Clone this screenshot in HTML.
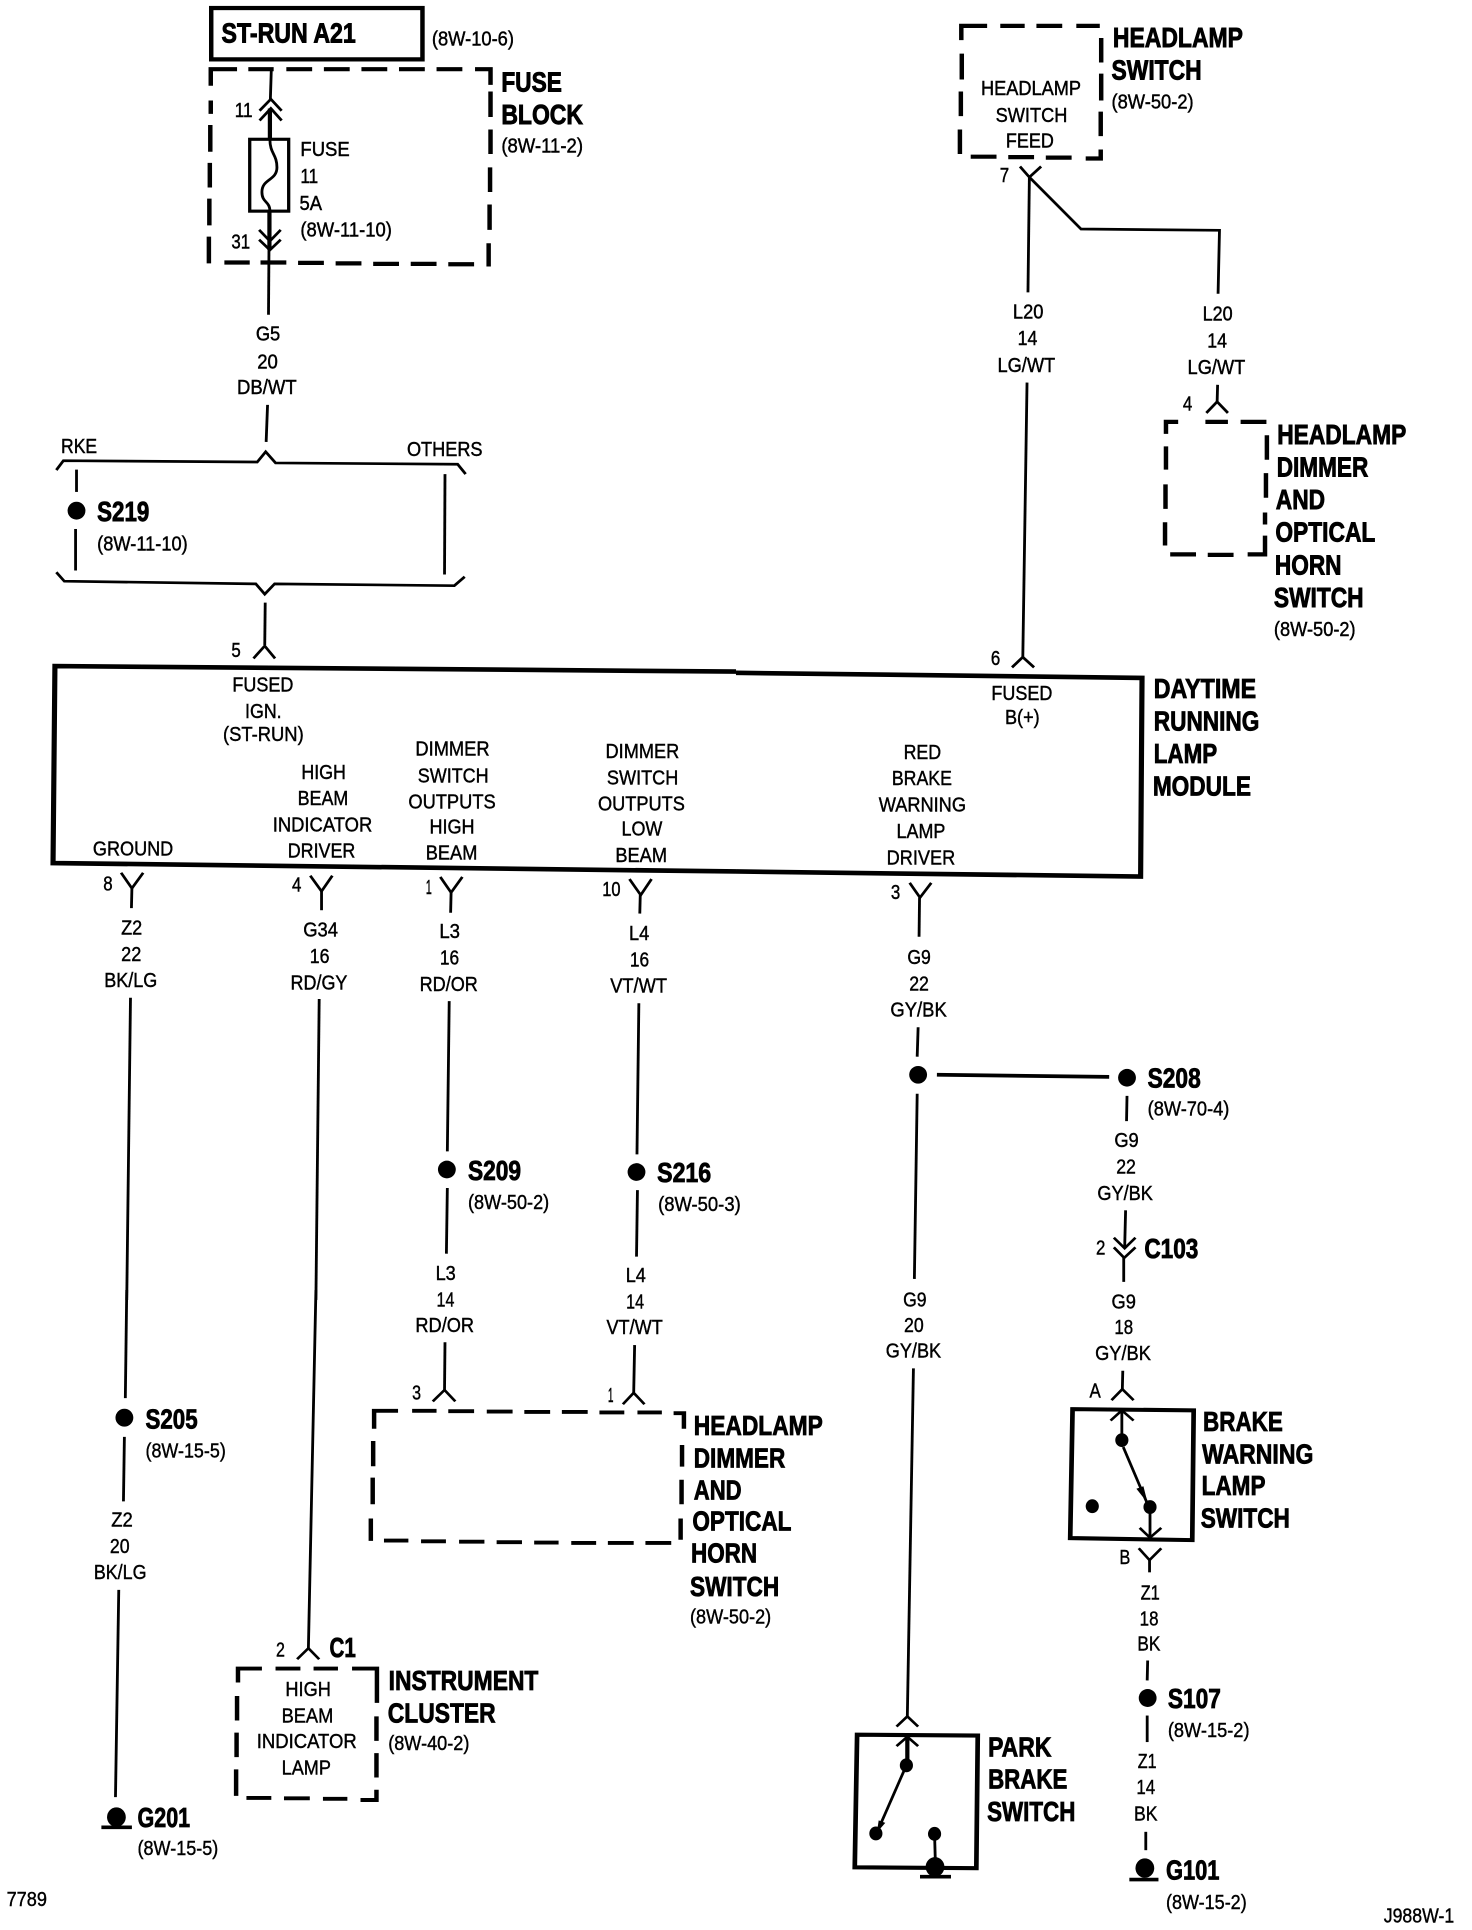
<!DOCTYPE html>
<html><head><meta charset="utf-8"><style>
html,body{margin:0;padding:0;background:#fff}
svg{display:block}
text{font-family:"Liberation Sans",sans-serif;fill:#000;stroke:#000}
text.r{stroke-width:1px}
text.b{font-weight:bold;stroke-width:2px}
.za text.r{font-size:45px}.za text.b{font-size:63px}
.zc text.r{font-size:48px}.zc text.b{font-size:66px}
.ze text.r{font-size:49px}.ze text.b{font-size:68px}
path,polyline,line,rect{fill:none;stroke:#000;stroke-width:6}
.d{stroke-width:9.5}
.t{stroke-width:9}
</style></head><body>
<svg xmlns="http://www.w3.org/2000/svg" width="1472" height="1930" viewBox="0 0 1472 1930">
<rect x="0" y="0" width="1472" height="1930" style="stroke:none;fill:#fff"/>

<!-- Zone A -->
<g class="za" transform="translate(0,0) scale(.4694,.4464)">
<rect class="d" x="450" y="18" width="450" height="115"/>
<text class="b" x="472" y="95" textLength="286" lengthAdjust="spacingAndGlyphs">ST-RUN A21</text>
<text class="r" x="920" y="102" textLength="175" lengthAdjust="spacingAndGlyphs">(8W-10-6)</text>
<path class="d" d="M449,192V155H505M529,155H583M610,155H665M690,155H745M770,155H825M850,155H905M930,155H985M1012,155H1045V190M1045,205V262M1045,290V345M1044,375V430M1043,458V515M1041,545V597M1010,592H955M930,591H875M850,591H795M770,590H715M690,589H635M610,588H555M532,588H478M445,590V530M446,505V445M447,420V365M448,340V280M449,255V225"/>
<line x1="578" y1="155" x2="576" y2="222"/>
<polyline points="553,248 577,222 600,248"/><polyline points="553,270 577,243 600,270"/>
<line class="t" x1="575" y1="243" x2="575" y2="312"/>
<rect x="532" y="312" width="83" height="161" style="stroke-width:7"/>
<path style="stroke-width:6" d="M575,312C575,345 590,345 590,375C590,405 558,400 558,430C558,455 575,450 575,473"/>
<line class="t" x1="574" y1="473" x2="574" y2="560"/>
<polyline points="552,515 575,540 598,515"/><polyline points="552,537 575,560 598,537"/>
<line x1="573" y1="560" x2="572" y2="705"/>
<text class="r" x="500" y="262" textLength="38" lengthAdjust="spacingAndGlyphs">11</text>
<text class="r" x="640" y="350" textLength="105" lengthAdjust="spacingAndGlyphs">FUSE</text>
<text class="r" x="640" y="410" textLength="38" lengthAdjust="spacingAndGlyphs">11</text>
<text class="r" x="638" y="470" textLength="48" lengthAdjust="spacingAndGlyphs">5A</text>
<text class="r" x="640" y="530" textLength="195" lengthAdjust="spacingAndGlyphs">(8W-11-10)</text>
<text class="r" x="493" y="557" textLength="40" lengthAdjust="spacingAndGlyphs">31</text>
<text class="b" x="1068" y="205" textLength="129" lengthAdjust="spacingAndGlyphs">FUSE</text>
<text class="b" x="1068" y="278" textLength="174" lengthAdjust="spacingAndGlyphs">BLOCK</text>
<text class="r" x="1068" y="342" textLength="174" lengthAdjust="spacingAndGlyphs">(8W-11-2)</text>
<text class="r" x="545" y="763" textLength="52" lengthAdjust="spacingAndGlyphs">G5</text>
<text class="r" x="548" y="825" textLength="44" lengthAdjust="spacingAndGlyphs">20</text>
<text class="r" x="505" y="883" textLength="127" lengthAdjust="spacingAndGlyphs">DB/WT</text>
<line x1="570" y1="907" x2="567" y2="990"/>
<text class="r" x="130" y="1015" textLength="77" lengthAdjust="spacingAndGlyphs">RKE</text>
<text class="r" x="867" y="1022" textLength="161" lengthAdjust="spacingAndGlyphs">OTHERS</text>
<polyline points="120,1053 135,1032 548,1035 566,1012 587,1037 975,1040 992,1062"/>
<line x1="163" y1="1052" x2="163" y2="1102"/>
<ellipse cx="163" cy="1144" rx="19" ry="20"/>
<line x1="161" y1="1185" x2="161" y2="1278"/>
<line x1="948" y1="1062" x2="947" y2="1287"/>
<text class="b" x="207" y="1167" textLength="111" lengthAdjust="spacingAndGlyphs">S219</text>
<text class="r" x="207" y="1233" textLength="193" lengthAdjust="spacingAndGlyphs">(8W-11-10)</text>
<polyline points="120,1282 137,1302 545,1308 564,1331 585,1308 968,1312 990,1292"/>
<line x1="565" y1="1350" x2="564" y2="1445"/>
<polyline points="540,1475 564,1447 586,1475"/>
<text class="r" x="493" y="1472" textLength="20" lengthAdjust="spacingAndGlyphs">5</text>
</g>

<!-- Zone B -->
<g class="za" transform="translate(736,0) scale(.4694,.4464)">
<path class="d" d="M480,90V58H535M563,58H615M640,58H695M725,58H775M778,85V140M778,165V225M777,250V305M777,335V355H745M715,353H660M635,352H580M555,351H500M477,345V290M479,260V205M481,178V120"/>
<text class="r" x="522" y="213" textLength="213" lengthAdjust="spacingAndGlyphs">HEADLAMP</text>
<text class="r" x="553" y="273" textLength="153" lengthAdjust="spacingAndGlyphs">SWITCH</text>
<text class="r" x="575" y="330" textLength="102" lengthAdjust="spacingAndGlyphs">FEED</text>
<text class="b" x="803" y="105" textLength="277" lengthAdjust="spacingAndGlyphs">HEADLAMP</text>
<text class="b" x="800" y="178" textLength="192" lengthAdjust="spacingAndGlyphs">SWITCH</text>
<text class="r" x="800" y="243" textLength="175" lengthAdjust="spacingAndGlyphs">(8W-50-2)</text>
<text class="r" x="562" y="408" textLength="20" lengthAdjust="spacingAndGlyphs">7</text>
<polyline points="605,373 625,397 650,373"/>
<line x1="625" y1="397" x2="622" y2="655"/>
<polyline points="625,397 735,513 1030,516 1027,658"/>
<text class="r" x="590" y="713" textLength="65" lengthAdjust="spacingAndGlyphs">L20</text>
<text class="r" x="600" y="773" textLength="42" lengthAdjust="spacingAndGlyphs">14</text>
<text class="r" x="557" y="833" textLength="123" lengthAdjust="spacingAndGlyphs">LG/WT</text>
<text class="r" x="994" y="718" textLength="64" lengthAdjust="spacingAndGlyphs">L20</text>
<text class="r" x="1004" y="778" textLength="42" lengthAdjust="spacingAndGlyphs">14</text>
<text class="r" x="962" y="838" textLength="123" lengthAdjust="spacingAndGlyphs">LG/WT</text>
<line x1="1026" y1="862" x2="1025" y2="900"/>
<polyline points="1002,925 1025,900 1048,925"/>
<text class="r" x="952" y="920" textLength="20" lengthAdjust="spacingAndGlyphs">4</text>
<path class="d" d="M942,945H916V972M916,1000V1052M915,1085V1140M914,1170V1222M925,1242H980M1005,1243H1060M1090,1242H1127V1200M1127,1148V1175M1129,1060V1115M1131,975V1030M1075,945H1130M1000,945H1048"/>
<text class="b" x="1153" y="995" textLength="275" lengthAdjust="spacingAndGlyphs">HEADLAMP</text>
<text class="b" x="1152" y="1067" textLength="195" lengthAdjust="spacingAndGlyphs">DIMMER</text>
<text class="b" x="1150" y="1140" textLength="105" lengthAdjust="spacingAndGlyphs">AND</text>
<text class="b" x="1149" y="1213" textLength="213" lengthAdjust="spacingAndGlyphs">OPTICAL</text>
<text class="b" x="1148" y="1287" textLength="142" lengthAdjust="spacingAndGlyphs">HORN</text>
<text class="b" x="1146" y="1360" textLength="191" lengthAdjust="spacingAndGlyphs">SWITCH</text>
<text class="r" x="1146" y="1425" textLength="174" lengthAdjust="spacingAndGlyphs">(8W-50-2)</text>
<line x1="620" y1="857" x2="611" y2="1473"/>
<polyline points="588,1495 611,1472 635,1495"/>
<text class="r" x="543" y="1490" textLength="20" lengthAdjust="spacingAndGlyphs">6</text>
</g>

<!-- Zone C -->
<g class="zc" transform="translate(0,640) scale(.4694,.4209)">
<polyline class="d" style="stroke-width:11" points="1568,75 117,62 113,530 1568,550"/>
<text class="r" x="495" y="122" textLength="130" lengthAdjust="spacingAndGlyphs">FUSED</text>
<text class="r" x="522" y="185" textLength="78" lengthAdjust="spacingAndGlyphs">IGN.</text>
<text class="r" x="475" y="240" textLength="172" lengthAdjust="spacingAndGlyphs">(ST-RUN)</text>
<text class="r" x="642" y="330" textLength="95" lengthAdjust="spacingAndGlyphs">HIGH</text>
<text class="r" x="634" y="392" textLength="108" lengthAdjust="spacingAndGlyphs">BEAM</text>
<text class="r" x="581" y="455" textLength="212" lengthAdjust="spacingAndGlyphs">INDICATOR</text>
<text class="r" x="613" y="517" textLength="144" lengthAdjust="spacingAndGlyphs">DRIVER</text>
<text class="r" x="198" y="512" textLength="171" lengthAdjust="spacingAndGlyphs">GROUND</text>
<text class="r" x="885" y="275" textLength="158" lengthAdjust="spacingAndGlyphs">DIMMER</text>
<text class="r" x="890" y="338" textLength="151" lengthAdjust="spacingAndGlyphs">SWITCH</text>
<text class="r" x="870" y="400" textLength="186" lengthAdjust="spacingAndGlyphs">OUTPUTS</text>
<text class="r" x="915" y="460" textLength="96" lengthAdjust="spacingAndGlyphs">HIGH</text>
<text class="r" x="907" y="522" textLength="110" lengthAdjust="spacingAndGlyphs">BEAM</text>
<text class="r" x="1290" y="280" textLength="157" lengthAdjust="spacingAndGlyphs">DIMMER</text>
<text class="r" x="1293" y="343" textLength="152" lengthAdjust="spacingAndGlyphs">SWITCH</text>
<text class="r" x="1274" y="405" textLength="185" lengthAdjust="spacingAndGlyphs">OUTPUTS</text>
<text class="r" x="1324" y="465" textLength="87" lengthAdjust="spacingAndGlyphs">LOW</text>
<text class="r" x="1311" y="527" textLength="110" lengthAdjust="spacingAndGlyphs">BEAM</text>
<polyline points="258,553 281,590 305,553"/><line x1="281" y1="590" x2="280" y2="637"/>
<polyline points="661,560 685,597 708,560"/><line x1="685" y1="597" x2="685" y2="642"/>
<polyline points="938,563 961,600 985,563"/><line x1="961" y1="600" x2="960" y2="648"/>
<polyline points="1341,568 1365,606 1388,568"/><line x1="1364" y1="606" x2="1363" y2="650"/>
<text class="r" x="220" y="595" textLength="20" lengthAdjust="spacingAndGlyphs">8</text>
<text class="r" x="622" y="597" textLength="20" lengthAdjust="spacingAndGlyphs">4</text>
<text class="r" x="907" y="603" textLength="13" lengthAdjust="spacingAndGlyphs">1</text>
<text class="r" x="1283" y="608" textLength="39" lengthAdjust="spacingAndGlyphs">10</text>
<text class="r" x="258" y="700" textLength="45" lengthAdjust="spacingAndGlyphs">Z2</text>
<text class="r" x="258" y="763" textLength="43" lengthAdjust="spacingAndGlyphs">22</text>
<text class="r" x="222" y="825" textLength="113" lengthAdjust="spacingAndGlyphs">BK/LG</text>
<text class="r" x="646" y="705" textLength="74" lengthAdjust="spacingAndGlyphs">G34</text>
<text class="r" x="660" y="768" textLength="42" lengthAdjust="spacingAndGlyphs">16</text>
<text class="r" x="619" y="830" textLength="121" lengthAdjust="spacingAndGlyphs">RD/GY</text>
<text class="r" x="936" y="708" textLength="44" lengthAdjust="spacingAndGlyphs">L3</text>
<text class="r" x="937" y="771" textLength="41" lengthAdjust="spacingAndGlyphs">16</text>
<text class="r" x="894" y="834" textLength="124" lengthAdjust="spacingAndGlyphs">RD/OR</text>
<text class="r" x="1340" y="713" textLength="43" lengthAdjust="spacingAndGlyphs">L4</text>
<text class="r" x="1342" y="776" textLength="41" lengthAdjust="spacingAndGlyphs">16</text>
<text class="r" x="1300" y="838" textLength="121" lengthAdjust="spacingAndGlyphs">VT/WT</text>
<line x1="278" y1="850" x2="270" y2="1568"/>
<line x1="680" y1="853" x2="673" y2="1568"/>
<line x1="957" y1="858" x2="953" y2="1215"/>
<ellipse cx="952" cy="1258" rx="19" ry="21"/>
<line x1="953" y1="1302" x2="951" y2="1458"/>
<text class="b" x="997" y="1283" textLength="113" lengthAdjust="spacingAndGlyphs">S209</text>
<text class="r" x="997" y="1352" textLength="173" lengthAdjust="spacingAndGlyphs">(8W-50-2)</text>
<text class="r" x="928" y="1520" textLength="43" lengthAdjust="spacingAndGlyphs">L3</text>
<line x1="1361" y1="863" x2="1357" y2="1222"/>
<ellipse cx="1356" cy="1264" rx="19" ry="21"/>
<line x1="1358" y1="1307" x2="1356" y2="1465"/>
<text class="b" x="1400" y="1288" textLength="115" lengthAdjust="spacingAndGlyphs">S216</text>
<text class="r" x="1402" y="1357" textLength="176" lengthAdjust="spacingAndGlyphs">(8W-50-3)</text>
<text class="r" x="1333" y="1525" textLength="43" lengthAdjust="spacingAndGlyphs">L4</text>
</g>

<!-- Zone D -->
<g class="zc" transform="translate(736,640) scale(.4694,.4209)">
<polyline class="d" style="stroke-width:11" points="0,78 865,90 862,562 0,550"/>
<text class="r" x="544" y="143" textLength="130" lengthAdjust="spacingAndGlyphs">FUSED</text>
<text class="r" x="573" y="200" textLength="74" lengthAdjust="spacingAndGlyphs">B(+)</text>
<text class="b" x="890" y="138" textLength="218" lengthAdjust="spacingAndGlyphs">DAYTIME</text>
<text class="b" x="890" y="215" textLength="225" lengthAdjust="spacingAndGlyphs">RUNNING</text>
<text class="b" x="890" y="292" textLength="135" lengthAdjust="spacingAndGlyphs">LAMP</text>
<text class="b" x="888" y="370" textLength="209" lengthAdjust="spacingAndGlyphs">MODULE</text>
<text class="r" x="357" y="283" textLength="80" lengthAdjust="spacingAndGlyphs">RED</text>
<text class="r" x="332" y="345" textLength="128" lengthAdjust="spacingAndGlyphs">BRAKE</text>
<text class="r" x="304" y="407" textLength="186" lengthAdjust="spacingAndGlyphs">WARNING</text>
<text class="r" x="342" y="470" textLength="104" lengthAdjust="spacingAndGlyphs">LAMP</text>
<text class="r" x="321" y="533" textLength="146" lengthAdjust="spacingAndGlyphs">DRIVER</text>
<polyline points="370,577 392,612 416,577"/><line x1="391" y1="612" x2="390" y2="705"/>
<text class="r" x="330" y="615" textLength="20" lengthAdjust="spacingAndGlyphs">3</text>
<text class="r" x="365" y="770" textLength="50" lengthAdjust="spacingAndGlyphs">G9</text>
<text class="r" x="369" y="833" textLength="42" lengthAdjust="spacingAndGlyphs">22</text>
<text class="r" x="329" y="895" textLength="120" lengthAdjust="spacingAndGlyphs">GY/BK</text>
<line x1="388" y1="920" x2="386" y2="990"/>
<ellipse cx="388" cy="1033" rx="19" ry="21"/>
<line class="t" x1="428" y1="1033" x2="795" y2="1038"/>
<ellipse cx="833" cy="1040" rx="19" ry="21"/>
<text class="b" x="877" y="1063" textLength="113" lengthAdjust="spacingAndGlyphs">S208</text>
<text class="r" x="877" y="1130" textLength="174" lengthAdjust="spacingAndGlyphs">(8W-70-4)</text>
<line x1="833" y1="1083" x2="832" y2="1143"/>
<text class="r" x="806" y="1205" textLength="52" lengthAdjust="spacingAndGlyphs">G9</text>
<text class="r" x="810" y="1268" textLength="42" lengthAdjust="spacingAndGlyphs">22</text>
<text class="r" x="770" y="1330" textLength="118" lengthAdjust="spacingAndGlyphs">GY/BK</text>
<line x1="830" y1="1355" x2="828" y2="1445"/>
<polyline points="805,1420 828,1445 851,1420"/><polyline points="805,1443 827,1468 851,1443"/>
<line x1="826" y1="1468" x2="826" y2="1525"/>
<text class="r" x="767" y="1460" textLength="20" lengthAdjust="spacingAndGlyphs">2</text>
<text class="b" x="870" y="1468" textLength="115" lengthAdjust="spacingAndGlyphs">C103</text>
<line x1="386" y1="1078" x2="380" y2="1518"/>
</g>

<!-- Zone E -->
<g class="ze" transform="translate(0,1290) scale(.4694,.408)">
<line x1="270" y1="0" x2="267" y2="265"/>
<ellipse cx="265" cy="313" rx="19" ry="22"/>
<text class="b" x="310" y="340" textLength="111" lengthAdjust="spacingAndGlyphs">S205</text>
<text class="r" x="310" y="410" textLength="171" lengthAdjust="spacingAndGlyphs">(8W-15-5)</text>
<line x1="265" y1="360" x2="263" y2="518"/>
<text class="r" x="237" y="580" textLength="46" lengthAdjust="spacingAndGlyphs">Z2</text>
<text class="r" x="234" y="645" textLength="42" lengthAdjust="spacingAndGlyphs">20</text>
<text class="r" x="200" y="708" textLength="112" lengthAdjust="spacingAndGlyphs">BK/LG</text>
<line x1="253" y1="735" x2="246" y2="1243"/>
<ellipse cx="248" cy="1292" rx="20" ry="24"/>
<line class="t" x1="216" y1="1317" x2="281" y2="1317"/>
<text class="b" x="293" y="1316" textLength="112" lengthAdjust="spacingAndGlyphs">G201</text>
<text class="r" x="293" y="1385" textLength="172" lengthAdjust="spacingAndGlyphs">(8W-15-5)</text>
<text class="r" x="14" y="1510" textLength="86" lengthAdjust="spacingAndGlyphs">7789</text>
<line x1="673" y1="0" x2="657" y2="878"/>
<polyline points="633,905 657,878 680,905"/>
<text class="r" x="588" y="898" textLength="19" lengthAdjust="spacingAndGlyphs">2</text>
<text class="b" x="702" y="900" textLength="56" lengthAdjust="spacingAndGlyphs">C1</text>
<text class="r" x="930" y="40" textLength="38" lengthAdjust="spacingAndGlyphs">14</text>
<text class="r" x="885" y="103" textLength="125" lengthAdjust="spacingAndGlyphs">RD/OR</text>
<line x1="948" y1="128" x2="947" y2="245"/>
<polyline points="922,273 947,245 970,273"/>
<text class="r" x="878" y="268" textLength="19" lengthAdjust="spacingAndGlyphs">3</text>
<text class="r" x="1334" y="45" textLength="38" lengthAdjust="spacingAndGlyphs">14</text>
<text class="r" x="1292" y="108" textLength="120" lengthAdjust="spacingAndGlyphs">VT/WT</text>
<line x1="1352" y1="135" x2="1350" y2="252"/>
<polyline points="1327,280 1350,252 1373,280"/>
<text class="r" x="1295" y="275" textLength="12" lengthAdjust="spacingAndGlyphs">1</text>
<path class="d" d="M797,340V296H848M878,296H930M955,297H1010M1037,298H1092M1117,299H1172M1197,299H1252M1277,300H1330M1358,300H1410M1435,302H1457V340M1453,380V433M1452,465V525M1450,560V612M1430,620H1375M1350,620H1295M1270,620H1217M1190,619H1138M1112,618H1058M1032,617H978M950,616H897M870,614H818M790,615V560M794,525V460M795,432V370"/>
<text class="b" x="1478" y="355" textLength="275" lengthAdjust="spacingAndGlyphs">HEADLAMP</text>
<text class="b" x="1478" y="435" textLength="195" lengthAdjust="spacingAndGlyphs">DIMMER</text>
<text class="b" x="1478" y="513" textLength="102" lengthAdjust="spacingAndGlyphs">AND</text>
<text class="b" x="1475" y="590" textLength="211" lengthAdjust="spacingAndGlyphs">OPTICAL</text>
<text class="b" x="1472" y="668" textLength="141" lengthAdjust="spacingAndGlyphs">HORN</text>
<text class="b" x="1470" y="750" textLength="190" lengthAdjust="spacingAndGlyphs">SWITCH</text>
<text class="r" x="1470" y="817" textLength="173" lengthAdjust="spacingAndGlyphs">(8W-50-2)</text>
<path class="d" d="M507,962V928H558M587,928H640M668,928H720M750,928H803V1012M802,1045V1105M802,1135V1195M802,1225V1250H768M740,1247H688M660,1246H605M578,1245H525M503,1240V1175M504,1145V1085M505,1055V995"/>
<text class="r" x="608" y="995" textLength="97" lengthAdjust="spacingAndGlyphs">HIGH</text>
<text class="r" x="600" y="1060" textLength="110" lengthAdjust="spacingAndGlyphs">BEAM</text>
<text class="r" x="547" y="1123" textLength="213" lengthAdjust="spacingAndGlyphs">INDICATOR</text>
<text class="r" x="600" y="1187" textLength="105" lengthAdjust="spacingAndGlyphs">LAMP</text>
<text class="b" x="828" y="980" textLength="319" lengthAdjust="spacingAndGlyphs">INSTRUMENT</text>
<text class="b" x="826" y="1060" textLength="230" lengthAdjust="spacingAndGlyphs">CLUSTER</text>
<text class="r" x="827" y="1128" textLength="173" lengthAdjust="spacingAndGlyphs">(8W-40-2)</text>
</g>

<!-- Zone F -->
<g class="ze" transform="translate(736,1290) scale(.4694,.408)">
<text class="r" x="356" y="40" textLength="50" lengthAdjust="spacingAndGlyphs">G9</text>
<text class="r" x="358" y="103" textLength="42" lengthAdjust="spacingAndGlyphs">20</text>
<text class="r" x="319" y="166" textLength="118" lengthAdjust="spacingAndGlyphs">GY/BK</text>
<line x1="378" y1="192" x2="365" y2="1045"/>
<polyline points="342,1070 365,1045 388,1070"/>
<polygon points="258,1090 515,1092 512,1417 253,1415" style="fill:none;stroke:#000;stroke-width:10"/>
<polyline points="342,1118 365,1095 388,1118"/>
<line class="t" x1="365" y1="1095" x2="365" y2="1165"/>
<ellipse cx="363" cy="1165" rx="14" ry="17"/>
<line x1="363" y1="1165" x2="300" y2="1330"/>
<polygon points="300,1330 304,1300 318,1306" style="fill:#000"/>
<ellipse cx="298" cy="1332" rx="14" ry="17"/>
<ellipse cx="423" cy="1333" rx="14" ry="17"/>
<line style="stroke-width:6" x1="423" y1="1333" x2="425" y2="1415"/>
<ellipse cx="424" cy="1414" rx="20" ry="24"/>
<line class="t" x1="392" y1="1438" x2="458" y2="1438"/>
<text class="b" x="537" y="1143" textLength="135" lengthAdjust="spacingAndGlyphs">PARK</text>
<text class="b" x="537" y="1222" textLength="169" lengthAdjust="spacingAndGlyphs">BRAKE</text>
<text class="b" x="535" y="1302" textLength="188" lengthAdjust="spacingAndGlyphs">SWITCH</text>
<text class="r" x="800" y="45" textLength="52" lengthAdjust="spacingAndGlyphs">G9</text>
<text class="r" x="806" y="108" textLength="40" lengthAdjust="spacingAndGlyphs">18</text>
<text class="r" x="765" y="172" textLength="119" lengthAdjust="spacingAndGlyphs">GY/BK</text>
<line x1="824" y1="198" x2="823" y2="245"/>
<polyline points="800,270 823,243 847,270"/>
<text class="r" x="753" y="263" textLength="24" lengthAdjust="spacingAndGlyphs">A</text>
<polygon points="717,292 975,295 972,613 712,608" style="fill:none;stroke:#000;stroke-width:10"/>
<polyline points="798,320 822,295 847,320"/>
<line style="stroke-width:6" x1="822" y1="295" x2="822" y2="368"/>
<ellipse cx="822" cy="368" rx="14" ry="17"/>
<line x1="825" y1="385" x2="875" y2="520"/>
<polygon points="877,522 853,487 868,481" style="fill:#000"/>
<ellipse cx="882" cy="532" rx="14" ry="17"/>
<line style="stroke-width:6" x1="882" y1="532" x2="882" y2="605"/>
<polyline points="860,583 882,607 906,583"/>
<ellipse cx="759" cy="530" rx="14" ry="17"/>
<text class="b" x="995" y="345" textLength="170" lengthAdjust="spacingAndGlyphs">BRAKE</text>
<text class="b" x="993" y="425" textLength="237" lengthAdjust="spacingAndGlyphs">WARNING</text>
<text class="b" x="992" y="503" textLength="136" lengthAdjust="spacingAndGlyphs">LAMP</text>
<text class="b" x="990" y="582" textLength="190" lengthAdjust="spacingAndGlyphs">SWITCH</text>
<polyline points="858,633 881,662 906,633"/><line x1="881" y1="662" x2="881" y2="692"/>
<text class="r" x="817" y="672" textLength="23" lengthAdjust="spacingAndGlyphs">B</text>
<text class="r" x="862" y="758" textLength="41" lengthAdjust="spacingAndGlyphs">Z1</text>
<text class="r" x="860" y="822" textLength="40" lengthAdjust="spacingAndGlyphs">18</text>
<text class="r" x="855" y="883" textLength="49" lengthAdjust="spacingAndGlyphs">BK</text>
<line x1="877" y1="908" x2="876" y2="957"/>
<ellipse cx="877" cy="1000" rx="19" ry="22"/>
<text class="b" x="920" y="1025" textLength="113" lengthAdjust="spacingAndGlyphs">S107</text>
<text class="r" x="920" y="1095" textLength="174" lengthAdjust="spacingAndGlyphs">(8W-15-2)</text>
<line style="stroke-width:6" x1="876" y1="1043" x2="876" y2="1108"/>
<text class="r" x="856" y="1172" textLength="40" lengthAdjust="spacingAndGlyphs">Z1</text>
<text class="r" x="853" y="1235" textLength="40" lengthAdjust="spacingAndGlyphs">14</text>
<text class="r" x="848" y="1300" textLength="50" lengthAdjust="spacingAndGlyphs">BK</text>
<line style="stroke-width:6" x1="873" y1="1328" x2="873" y2="1373"/>
<ellipse cx="871" cy="1417" rx="20" ry="24"/>
<line class="t" x1="838" y1="1445" x2="900" y2="1445"/>
<text class="b" x="916" y="1445" textLength="114" lengthAdjust="spacingAndGlyphs">G101</text>
<text class="r" x="916" y="1517" textLength="172" lengthAdjust="spacingAndGlyphs">(8W-15-2)</text>
<text class="r" x="1380" y="1550" textLength="150" lengthAdjust="spacingAndGlyphs">J988W-1</text>
</g>
</svg>
</body></html>
